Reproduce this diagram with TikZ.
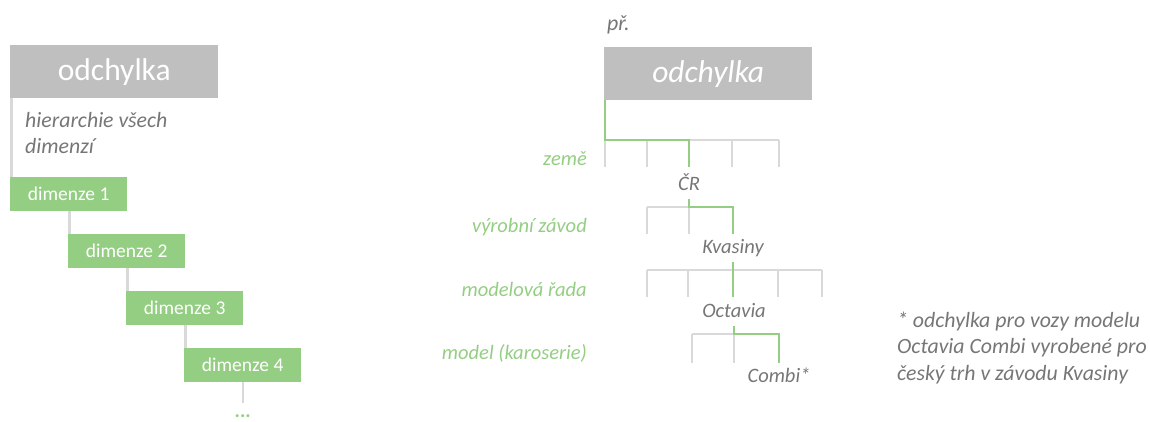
\documentclass[tikz,border=0pt]{standalone}
\usepackage{fontspec}
\setmainfont{Carlito}
\usepackage{tikz}
\usetikzlibrary{positioning}

\definecolor{boxgray}{RGB}{191,191,191}
\definecolor{linegray}{RGB}{217,217,217}
\definecolor{dimgreen}{RGB}{148,206,130}
\definecolor{txtgray}{RGB}{118,118,118}

\tikzset{
  hdrbox/.style={fill=boxgray, text=white, minimum width=208, minimum height=53, inner sep=0, font=\fontsize{31.5}{36}\selectfont},
  dimbox/.style={fill=dimgreen, text=white, minimum width=117, minimum height=34, inner sep=0, font=\fontsize{19.5}{23}\selectfont},
  note/.style={text=txtgray, inner sep=0, align=left, font=\fontsize{21.8}{26.3}\selectfont\itshape},
  lvl/.style={text=dimgreen, inner sep=0, anchor=base east, font=\fontsize{20.5}{26}\selectfont\itshape},
  val/.style={text=txtgray, text height=14, text depth=4, inner sep=5, font=\fontsize{20.5}{26}\selectfont\itshape},
  grayline/.style={draw=linegray, line width=2.3},
  greenline/.style={draw=dimgreen, line width=2.3},
}

\begin{document}
\begin{tikzpicture}[x=1pt, y=-1pt]
\useasboundingbox (0,0) rectangle (1150,421);
% hierarchie dimenzi
\node[hdrbox, anchor=north west] (odch) at (10,45) {odchylka};
\node[note, anchor=north west] (hier) at (25,112) {hierarchie všech\\dimenzí};
\foreach \i in {1,...,4}
  \node[dimbox, anchor=north west] (dim\i) at ({10+58*(\i-1)}, {177+57*(\i-1)}) {dimenze \i};
\draw[grayline] ([xshift=1.5]odch.south west) -- ([xshift=1.5]dim1.north west);
\foreach \i/\j in {1/2,2/3,3/4}
  \draw[grayline] ([xshift=1.5]dim\j.north west |- dim\i.south) -- ([xshift=1.5]dim\j.north west);
\coordinate (dimend) at (dim4.south |- 0,403);
\draw[grayline] (dim4.south) -- (dimend);
\node[text=dimgreen, inner sep=0, anchor=base, font=\fontsize{20}{24}\selectfont\bfseries] (more) at (dim4.south |- 0,417.5) {...};

% priklad
\node[note, anchor=base west] (pr) at (607,30) {př.};
\node[hdrbox, anchor=north west, font=\fontsize{31.5}{36}\selectfont\itshape] (odch2) at (604,47) {odchylka};
\node[lvl] (zeme) at (587,165) {země};
\node[lvl] (zavod) at (587,232) {výrobní závod};
\node[lvl] (rada) at (587,296) {modelová řada};
\node[lvl] (model) at (587,359) {model (karoserie)};
\node[val] (cr) at (689,185) {ČR};
\node[val] (kvas) at (733,248) {Kvasiny};
\node[val] (octa) at (734,312) {Octavia};
\node[val] (combi) at (779,377) {Combi*};

% zeme
\foreach \x [count=\k] in {605,647,689,732,779}{
  \coordinate (a\k) at (\x,140);
  \coordinate (ab\k) at (\x,167);
  \draw[grayline] (a\k) -- (ab\k);
}
\draw[grayline] (a1) -- (a5);
\draw[greenline] ([xshift=1]odch2.south west) |- (a3) -- (ab3);
% vyrobni zavod
\foreach \x [count=\k] in {647,689,733}{
  \coordinate (b\k) at (\x,207);
  \coordinate (bb\k) at (\x,234);
  \draw[grayline] (b\k) -- (bb\k);
}
\draw[grayline] (b1) -- (b2);
\draw[greenline] (cr.south) |- (b3) -- (bb3);
% modelova rada
\foreach \x [count=\k] in {647,688,733,778,822}{
  \coordinate (c\k) at (\x,270);
  \coordinate (cb\k) at (\x,297);
  \draw[grayline] (c\k) -- (cb\k);
}
\draw[grayline] (c1) -- (c5);
\draw[greenline] (kvas.south) -- (cb3);
% model
\foreach \x [count=\k] in {692,734,779}{
  \coordinate (d\k) at (\x,334);
  \coordinate (db\k) at (\x,363);
  \draw[grayline] (d\k) -- (db\k);
}
\draw[grayline] (d1) -- (d2);
\draw[greenline] (octa.south) |- (d3) -- (db3);

\node[note, anchor=north west] (pozn) at (897,312) {* odchylka pro vozy modelu\\Octavia Combi vyrobené pro\\český trh v závodu Kvasiny};
\end{tikzpicture}
\end{document}
